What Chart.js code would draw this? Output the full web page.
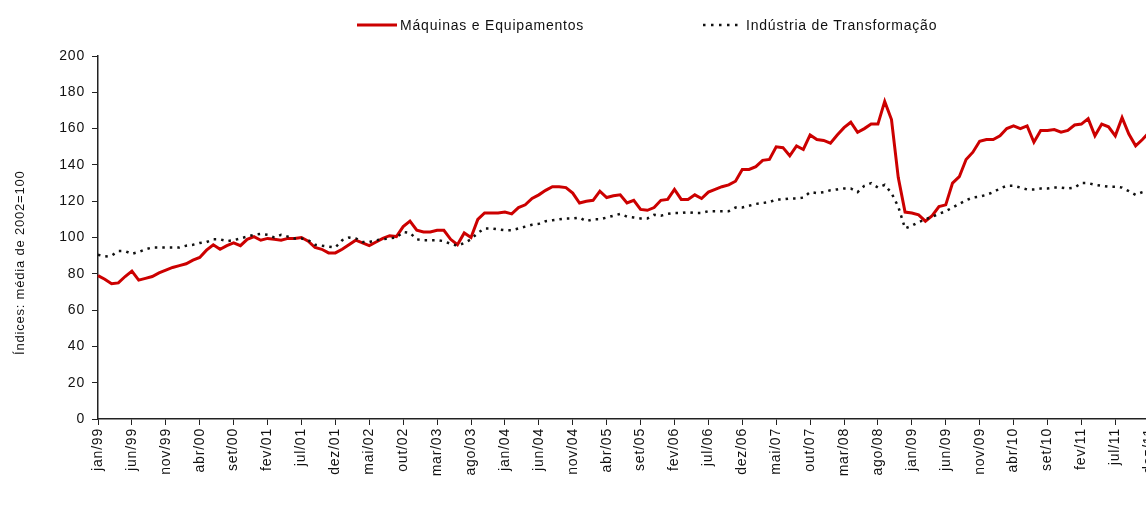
<!DOCTYPE html>
<html lang="pt-BR">
<head>
<meta charset="utf-8">
<title>Máquinas e Equipamentos x Indústria de Transformação</title>
<script src="https://cdn.jsdelivr.net/npm/chart.js@4.4.1/dist/chart.umd.min.js"></script>
<style>
  html, body { margin: 0; padding: 0; overflow: hidden; background: #fff; }
  #wrap { position: relative; width: 1169px; height: 520px; }
  .legenda { position: absolute; top: 16px; height: 18px; display: flex; align-items: center;
             font: 14px "Liberation Sans", Arial, sans-serif; letter-spacing: 0.8px; color: #111; white-space: nowrap; }
  .legenda svg { display: block; margin-right: 3px; }
  #titulo-y { position: absolute; left: 12px; top: 355px; transform-origin: 0 0; transform: rotate(-90deg);
              font-family: "Liberation Sans", Arial, sans-serif; font-size: 13px; font-weight: normal;
              line-height: 15px; letter-spacing: 0.8px; color: #111; white-space: nowrap; }
</style>
</head>
<body>
<div id="wrap">
  <canvas id="grafico"></canvas>
  <div class="legenda" style="left:357px">
    <svg width="40" height="6"><line x1="0" y1="3" x2="40" y2="3" stroke="#cc0000" stroke-width="3"/></svg>
    <span>Máquinas e Equipamentos</span>
  </div>
  <div class="legenda" style="left:703px">
    <svg width="40" height="6"><line x1="0" y1="3" x2="40" y2="3" stroke="#111" stroke-width="2.5" stroke-dasharray="2.5 5.5"/></svg>
    <span>Indústria de Transformação</span>
  </div>
  <div id="titulo-y">Índices: média de 2002=100</div>
</div>
<script>
// meses de jan/99 a dez/11
const meses = ["jan", "fev", "mar", "abr", "mai", "jun", "jul", "ago", "set", "out", "nov", "dez"];
const anos = ["99", "00", "01", "02", "03", "04", "05", "06", "07", "08", "09", "10", "11"];
const categorias = [];
anos.forEach(a => meses.forEach(m => categorias.push(m + "/" + a)));

// índices, média de 2002 = 100
const maquinas = [
  79, 77, 74.5, 75, 78.5, 81.5, 76.5, 77.5, 78.5, 80.5, 82, 83.5,
  84.5, 85.5, 87.5, 89, 93, 96, 93.5, 95.5, 97, 95.5, 99, 100.5,
  98.5, 99.5, 99, 98.5, 99.5, 99.5, 100, 98, 94.5, 93.5, 91.5, 91.5,
  93.5, 96, 98.5, 97, 95.5, 97.5, 99.5, 101, 100.5, 106, 109, 104,
  103, 103, 104, 104, 99, 96, 102.5, 100, 110, 113.5, 113.5, 113.5,
  114, 113, 116.5, 118, 121.5, 123.5, 126, 128, 128, 127.5, 124.5, 119,
  120, 120.5, 125.5, 122, 123, 123.5, 119, 120.5, 115.5, 115, 116.5, 120.5,
  121, 126.5, 121, 121, 123.5, 121.5, 125, 126.5, 128, 129, 131, 137.5,
  137.5, 139, 142.5, 143, 150, 149.5, 145, 150.5, 148.5, 156.5, 154, 153.5,
  152, 156.5, 160.5, 163.5, 158, 160, 162.5, 162.5, 175, 165, 133, 114,
  113.5, 112.5, 109, 112, 117, 118, 130, 133.5, 143, 147, 153, 154,
  154, 156, 160, 161.5, 160, 161.5, 152.5, 159, 159, 159.5, 158, 159,
  162, 162.5, 165.5, 156, 162.5, 161, 156, 166, 157, 150.5, 154, 158
];
const industria = [
  90.5, 89.5, 90, 92.5, 92.5, 91, 92, 93.5, 94.5, 94.5, 94.5, 94.5,
  94.5, 95.5, 96, 97, 97.5, 99, 99, 98, 98.5, 99.5, 100.5, 101.5,
  102, 101.5, 100, 101.5, 100.5, 99.5, 99.5, 98.5, 96, 95.5, 95, 94.5,
  98.5, 100, 99.5, 97.5, 97.5, 98.5, 99, 99.5, 100, 103, 102.5, 99,
  98.5, 98.5, 98.5, 98, 96.5, 95.5, 97, 99, 102.5, 105, 105, 104.5,
  104, 104, 105, 106, 107, 107.5, 109, 109.5, 110, 110.5, 110.5, 111,
  109, 110, 110, 111, 112, 113, 111.5, 111, 110.5, 110.5, 112.5, 112,
  113, 113.5, 113.5, 114, 113.5, 113.5, 114.5, 114.5, 114.5, 114.5, 116.5, 116.5,
  117.5, 118.5, 119, 119.5, 121, 121, 121.5, 121.5, 122, 125, 124.5, 125,
  126, 126.5, 127, 127, 125, 128.5, 130, 127.5, 129, 124.5, 117, 105,
  106.5, 108.5, 110, 111.5, 113, 114.5, 116.5, 118.5, 120.5, 122, 122.5, 123.5,
  125, 127, 128.5, 128.5, 127.5, 126.5, 126.5, 127, 127, 127.5, 127.5, 127,
  127.5, 130, 130, 129, 128.5, 128, 128, 127.5, 125.5, 123.5, 125, 126
];

const fonteEixo = { family: "'Liberation Sans', Arial, sans-serif", size: 14 };

// espaçamento entre letras, como no original
const espacamento = {
  id: "espacamento",
  beforeLayout(chart) { chart.ctx.letterSpacing = "0.8px"; },
  beforeDraw(chart) { chart.ctx.letterSpacing = "0.8px"; }
};

document.addEventListener("DOMContentLoaded", () => {
  new Chart(document.getElementById("grafico"), {
    type: "line",
    data: {
      labels: categorias,
      datasets: [
        {
          label: "Máquinas e Equipamentos",
          data: maquinas,
          borderColor: "#cc0000",
          borderWidth: 3,
          pointRadius: 0,
          tension: 0,
          order: 2
        },
        {
          label: "Indústria de Transformação",
          data: industria,
          borderColor: "#111",
          borderWidth: 2.5,
          borderDash: [2.5, 5],
          pointRadius: 0,
          tension: 0,
          order: 1
        }
      ]
    },
    options: {
      responsive: true,
      maintainAspectRatio: false,
      animation: false,
      layout: { padding: { top: 56, right: 11, bottom: 0, left: 0 } },
      plugins: { legend: { display: false }, tooltip: { enabled: false } },
      scales: {
        x: {
          offset: false,
          grid: {
            drawOnChartArea: false,
            tickLength: 6,
            color: c => (c.index % 5 === 0 ? "#222" : "rgba(0,0,0,0)")
          },
          border: { display: true, color: "#222", width: 1.5 },
          ticks: {
            autoSkip: false,
            minRotation: 90,
            maxRotation: 90,
            padding: 3,
            color: "#111",
            font: fonteEixo,
            callback: (v, i) => (i % 5 === 0 ? categorias[i] : "")
          },
          afterFit: s => { s.height = 101; }
        },
        y: {
          min: 0,
          max: 200,
          grid: { drawOnChartArea: false, tickLength: 6, color: "#222" },
          border: { display: true, color: "#222", width: 1.5 },
          ticks: { stepSize: 20, padding: 7, color: "#111", font: fonteEixo },
          afterFit: s => { s.width = 98; }
        }
      }
    },
    plugins: [espacamento]
  });
});
</script>
</body>
</html>
